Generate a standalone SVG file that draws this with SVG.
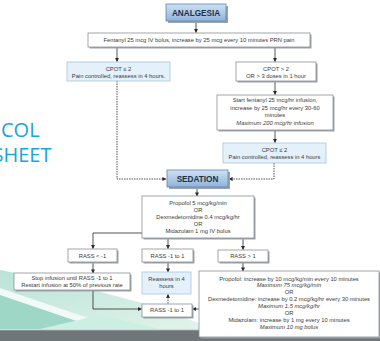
<svg xmlns="http://www.w3.org/2000/svg" width="380" height="341" viewBox="0 0 380 341">
<style>
.t{font-family:"Liberation Sans",Arial,sans-serif;font-size:5.8px;fill:#3a3a3a;text-anchor:middle}
.i{font-style:italic}
.h{font-family:"Liberation Sans",Arial,sans-serif;font-size:8.2px;font-weight:bold;fill:#1e2f4d;text-anchor:middle}
.w{fill:#ffffff;stroke:#8a8f96;stroke-width:0.8}
.lb{fill:#e4f1fa;stroke:#a9c6dd;stroke-width:0.8}
.hd{fill:url(#hg);stroke:#5c86b0;stroke-width:0.8}
.sh{fill:#9ea3a8}
.c{fill:none;stroke:#2a2a2a;stroke-width:0.8}
.d{stroke-dasharray:1.5 1}
.bg{font-family:"Open Sans","Liberation Sans",sans-serif;font-size:20px;fill:#1ba3dd}
</style>
<defs>
<linearGradient id="hg" x1="0" y1="0" x2="0" y2="1">
<stop offset="0" stop-color="#cfe1f3"/>
<stop offset="1" stop-color="#8fb3d8"/>
</linearGradient>
<linearGradient id="gg" x1="0" y1="0" x2="1" y2="1">
<stop offset="0" stop-color="#b9e3d6"/>
<stop offset="1" stop-color="#e3f4ec"/>
</linearGradient>
<marker id="ah" markerWidth="4" markerHeight="4" refX="3.6" refY="2" orient="auto" markerUnits="userSpaceOnUse">
<path d="M0,0 L4,2 L0,4 z" fill="#2a2a2a"/>
</marker>
</defs>
<rect width="380" height="341" fill="#ffffff"/>
<g id="background">
<polygon points="0,270 70,284 150,305 215,329 0,329" fill="url(#gg)"/>
<polygon points="0,288 120,329 0,329" fill="#f2faf7"/>
<polygon points="0,295 100,329 0,329" fill="#9fd7c7"/>
<polygon points="40,329 100,315 160,329" fill="#cdeee2"/>
<rect x="0" y="329" width="380" height="1.2" fill="#cfdcd8"/>
<rect x="0" y="330.2" width="380" height="11" fill="#6e767a"/>
<text class="bg" x="1" y="137">COL</text>
<text class="bg" x="-7.5" y="162">SHEET</text>
</g>
<g id="connectors">
<path class="c" d="M196,21 V32.5" marker-end="url(#ah)"/>
<path class="c" d="M117,47.5 V61.5" marker-end="url(#ah)"/>
<path class="c" d="M275,47.5 V61.5" marker-end="url(#ah)"/>
<path class="c" d="M275,82 V94.5" marker-end="url(#ah)"/>
<path class="c" d="M275,130 V142.5" marker-end="url(#ah)"/>
<path class="c d" d="M117,81 V179 H166" marker-end="url(#ah)"/>
<path class="c d" d="M274,163 V179 H229" marker-end="url(#ah)"/>
<path class="c" d="M197,187 V196" marker-end="url(#ah)"/>
<path class="c" d="M142,233 H93 V248.5" marker-end="url(#ah)"/>
<path class="c" d="M168,238 V248.5" marker-end="url(#ah)"/>
<path class="c" d="M243,238 V249.5" marker-end="url(#ah)"/>
<path class="c" d="M93,262 V273" marker-end="url(#ah)"/>
<path class="c" d="M168,262 V272" marker-end="url(#ah)"/>
<path class="c" d="M243,262 V271" marker-end="url(#ah)"/>
<path class="c" d="M93,290 V309 H141.5" marker-end="url(#ah)"/>
<path class="c" d="M199,309 H192.5" marker-end="url(#ah)"/>
<path class="c d" d="M168,303.5 V294.5" marker-end="url(#ah)"/>
</g>
<g id="analgesia">
<rect class="sh" x="168" y="6" width="60" height="17"/>
<rect class="hd" x="166" y="4" width="60" height="17"/>
<text class="h" x="196" y="15.6">ANALGESIA</text>
</g>
<g id="fentanyl-bolus">
<rect class="sh" x="89.5" y="34.5" width="222" height="14"/>
<rect class="w" x="88" y="33" width="222" height="14"/>
<text class="t" x="199" y="42">Fentanyl 25 mcg IV bolus, increase by 25 mcg every 10 minutes PRN pain</text>
</g>
<g id="cpot-low-1">
<rect class="lb" x="67" y="62" width="103" height="19"/>
<text class="t" x="118.5" y="71">CPOT ≤ 2</text>
<text class="t" x="118.5" y="78">Pain controlled, reassess in 4 hours.</text>
</g>
<g id="cpot-high">
<rect class="sh" x="237.5" y="63.5" width="80" height="19"/>
<rect class="w" x="236" y="62" width="80" height="19"/>
<text class="t" x="276" y="71">CPOT &gt; 2</text>
<text class="t" x="276" y="78">OR &gt; 3 doses in 1 hour</text>
</g>
<g id="fentanyl-infusion">
<rect class="sh" x="218.5" y="96.5" width="116" height="35"/>
<rect class="w" x="217" y="95" width="116" height="35"/>
<text class="t" x="275" y="102">Start fentanyl 25 mcg/hr infusion,</text>
<text class="t" x="275" y="109.7">increase by 25 mcg/hr every 30-60</text>
<text class="t" x="275" y="117.4">minutes</text>
<text class="t i" x="275" y="125">Maximum 200 mcg/hr infusion</text>
</g>
<g id="cpot-low-2">
<rect class="lb" x="223" y="143" width="103" height="20"/>
<text class="t" x="274.5" y="152">CPOT ≤ 2</text>
<text class="t" x="274.5" y="159.3">Pain controlled, reassess in 4 hours</text>
</g>
<g id="sedation">
<rect class="sh" x="169" y="172" width="61" height="17"/>
<rect class="hd" x="167" y="170" width="61" height="17"/>
<text class="h" x="197.5" y="181.6">SEDATION</text>
</g>
<g id="sedation-start">
<rect class="sh" x="143.5" y="197.5" width="112" height="42"/>
<rect class="w" x="142" y="196" width="112" height="42"/>
<text class="t" x="198" y="204.7">Propofol 5 mcg/kg/min</text>
<text class="t" x="198" y="211.5">OR</text>
<text class="t" x="198" y="218.7">Dexmedetomidine 0.4 mcg/kg/hr</text>
<text class="t" x="198" y="226">OR</text>
<text class="t" x="198" y="233">Midazolam 1 mg IV bolus</text>
</g>
<g id="rass-low">
<rect class="sh" x="69.5" y="250.5" width="49" height="13"/>
<rect class="w" x="68" y="249" width="49" height="13"/>
<text class="t" x="92.5" y="257.5">RASS &lt; -1</text>
</g>
<g id="rass-target">
<rect class="sh" x="143.5" y="250.5" width="51" height="13"/>
<rect class="w" x="142" y="249" width="51" height="13"/>
<text class="t" x="167.5" y="257.5">RASS -1 to 1</text>
</g>
<g id="rass-high">
<rect class="sh" x="219.5" y="251.5" width="50" height="12"/>
<rect class="w" x="218" y="250" width="50" height="12"/>
<text class="t" x="243" y="258">RASS &gt; 1</text>
</g>
<g id="stop-infusion">
<rect class="sh" x="15.5" y="274.5" width="116" height="17"/>
<rect class="w" x="14" y="273" width="116" height="17"/>
<text class="t" x="72" y="279.7">Stop infusion until RASS -1 to 1</text>
<text class="t" x="72" y="287.3">Restart infusion at 50% of previous rate</text>
</g>
<g id="reassess">
<rect class="lb" x="142" y="272" width="49" height="22"/>
<text class="t" x="166.5" y="281">Reassess in 4</text>
<text class="t" x="166.5" y="288">hours</text>
</g>
<g id="rass-result">
<rect class="sh" x="143.5" y="305.5" width="50" height="13"/>
<rect class="w" x="142" y="304" width="50" height="13"/>
<text class="t" x="167" y="312.3">RASS -1 to 1</text>
</g>
<g id="titration">
<rect class="sh" x="200.5" y="272.5" width="180" height="66"/>
<rect class="w" x="199" y="271" width="180" height="66"/>
<text class="t" x="289" y="281">Propofol: increase by 10 mcg/kg/min every 10 minutes</text>
<text class="t i" x="289" y="287.2">Maximum 75 mcg/kg/min</text>
<text class="t" x="289" y="293.7">OR</text>
<text class="t" x="289" y="301">Dexmedetomidine: increase by 0.2 mcg/kg/hr every 30 minutes</text>
<text class="t i" x="289" y="308">Maximum 1.5 mcg/kg/hr</text>
<text class="t" x="289" y="315.3">OR</text>
<text class="t" x="289" y="322">Midazolam: increase by 1 mg every 10 minutes</text>
<text class="t i" x="289" y="329">Maximum 10 mg bolus</text>
</g>
</svg>
